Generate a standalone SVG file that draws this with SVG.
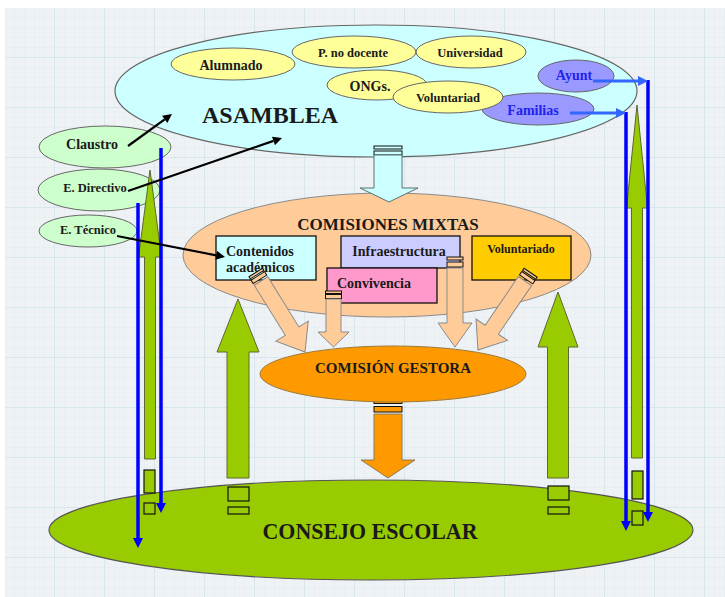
<svg xmlns="http://www.w3.org/2000/svg" width="725" height="597" viewBox="0 0 725 597">
<defs>
<pattern id="minor" x="5" y="8" width="10" height="10" patternUnits="userSpaceOnUse">
<path d="M10,0 V10 M0,10 H10" fill="none" stroke="#d6e5ee" stroke-width="0.6"/>
</pattern>
<pattern id="major" x="5" y="8" width="50" height="50" patternUnits="userSpaceOnUse">
<path d="M50,0 V50 M0,50 H50" fill="none" stroke="#c5dae6" stroke-width="0.9"/>
</pattern>
<marker id="blk" viewBox="0 0 10 10" refX="0" refY="5" markerWidth="10" markerHeight="9" markerUnits="userSpaceOnUse" orient="auto"><path d="M0,0 L10,5 L0,10 z" fill="#000"/></marker>
<marker id="blu" viewBox="0 0 10 10" refX="0" refY="5" markerWidth="10" markerHeight="10" markerUnits="userSpaceOnUse" orient="auto"><path d="M0,0 L10,5 L0,10 z" fill="#0000ff"/></marker>
<marker id="blu2" viewBox="0 0 10 10" refX="0" refY="5" markerWidth="10" markerHeight="10" markerUnits="userSpaceOnUse" orient="auto"><path d="M0,0 L10,5 L0,10 z" fill="#3366ff"/></marker>
</defs>
<style>
text{font-family:"Liberation Serif","Times New Roman",serif;font-weight:bold;fill:#1a1a1a;text-anchor:middle}
.st{text-anchor:start}
.asm{fill:#ccffff;stroke:#666;stroke-width:1.2}
.yel{fill:#ffff99;stroke:#666;stroke-width:1}
.vio{fill:#9999ff;stroke:#666;stroke-width:1}
.vt{fill:#2222ee}
.lg{fill:#ccffcc;stroke:#666;stroke-width:1}
.peach{fill:#ffcc99;stroke:#8a8a8a;stroke-width:1}
.box{stroke:#111;stroke-width:1.3}
.grn{fill:#99cc00;stroke:#5e6633;stroke-width:1}
.gbx{fill:#99cc00;stroke:#111;stroke-width:1.2}
.stripe{stroke:#111;stroke-width:1}
.bl{fill:none;stroke:#0000ff;stroke-width:3.5}
.bl2{fill:none;stroke:#3366ff;stroke-width:3}
.ba{fill:none;stroke:#000;stroke-width:2.2}
</style>
<rect x="0" y="0" width="725" height="597" fill="#ffffff"/>
<rect x="5" y="8" width="720" height="589" fill="#eff2f4"/>
<rect x="5" y="8" width="720" height="589" fill="url(#minor)"/>
<rect x="5" y="8" width="720" height="589" fill="url(#major)"/>

<g id="asamblea">
<ellipse class="asm" cx="376" cy="91" rx="261" ry="66"/>
<text x="270" y="123" font-size="24">ASAMBLEA</text>
</g>
<g id="alumnado"><ellipse class="yel" cx="233" cy="64" rx="62" ry="16"/><text x="231" y="70" font-size="14">Alumnado</text></g>
<g id="pnodocente"><ellipse class="yel" cx="354" cy="52" rx="62" ry="16"/><text x="353" y="57" font-size="12.5">P. no docente</text></g>
<g id="universidad"><ellipse class="yel" cx="471" cy="52" rx="55" ry="16"/><text x="470" y="57" font-size="12.5">Universidad</text></g>
<g id="ongs"><ellipse class="yel" cx="377" cy="85" rx="50" ry="15"/><text x="370" y="91" font-size="14">ONGs.</text></g>
<g id="ayunt"><ellipse class="vio" cx="576" cy="76" rx="38" ry="16"/><text class="vt" x="574" y="80" font-size="14">Ayunt</text></g>
<g id="familias"><ellipse class="vio" cx="538" cy="109" rx="56" ry="16"/><text class="vt" x="533" y="115" font-size="14">Familias</text></g>
<g id="voluntariad"><ellipse class="yel" cx="448" cy="97" rx="55" ry="16"/><text x="448" y="102" font-size="12.5">Voluntariad</text></g>

<g id="claustro"><ellipse class="lg" cx="105" cy="147" rx="66" ry="21"/><text x="92" y="149" font-size="14">Claustro</text></g>
<g id="edirectivo"><ellipse class="lg" cx="99" cy="190" rx="61" ry="21"/><text x="95" y="192" font-size="12.5">E. Directivo</text></g>
<g id="etecnico"><ellipse class="lg" cx="88" cy="231" rx="49" ry="16"/><text x="88" y="234" font-size="12.5">E. Técnico</text></g>

<g id="comisiones">
<ellipse class="peach" cx="387" cy="255" rx="204" ry="62"/>
<text x="388" y="230" font-size="17">COMISIONES MIXTAS</text>
</g>
<g id="contenidos"><rect class="box" x="216" y="236" width="100" height="44" fill="#ccffff"/><text class="st" x="226" y="256" font-size="14">Contenidos</text><text class="st" x="226" y="272" font-size="14">académicos</text></g>
<g id="infraestructura"><rect class="box" x="341" y="236" width="119" height="32" fill="#ccccff"/><text x="399" y="256" font-size="14">Infraestructura</text></g>
<g id="convivencia"><rect class="box" x="327" y="268" width="110" height="35" fill="#ff99cc"/><text class="st" x="337" y="288" font-size="14">Convivencia</text></g>
<g id="voluntariado"><rect class="box" x="472" y="236" width="99" height="44" fill="#ffcc00"/><text x="521" y="253" font-size="12">Voluntariado</text></g>

<g id="consejo">
<ellipse cx="371" cy="530" rx="322" ry="50" fill="#99cc00" stroke="#555" stroke-width="1.2"/>
<text x="370" y="539" font-size="23" textLength="215" lengthAdjust="spacingAndGlyphs">CONSEJO ESCOLAR</text>
</g>

<g id="connectors">
<!-- orange arrow gestora -> consejo -->
<g fill="#ff9900">
<rect class="stripe" x="374" y="400" width="28" height="3.5"/>
<rect class="stripe" x="374" y="406.5" width="28" height="5.5"/>
<polygon points="374,414 402,414 402,460 415,460 388,478 361,460 374,460" stroke="#8c7a5a" stroke-width="1"/>
</g>
</g>

<g id="gestora">
<ellipse cx="393" cy="374" rx="133" ry="28" fill="#ff9900" stroke="#9a7a3a" stroke-width="1"/>
<text x="393" y="373" font-size="15">COMISIÓN GESTORA</text>
</g>

<g id="connectors2">
<!-- peach striped arrows from comisiones to gestora -->
<g transform="translate(261,281) rotate(-31.8)" fill="#ffcc99">
<rect class="stripe" x="-8" y="-10" width="16" height="2.5"/>
<rect class="stripe" x="-8" y="-6" width="16" height="4"/>
<polygon class="peach" points="-8,0 8,0 8,59 19,59 0,83.5 -19,59 -8,59"/>
</g>
<g fill="#ffcc99">
<rect class="stripe" x="325.5" y="291" width="16" height="2.5"/>
<rect class="stripe" x="325.5" y="294.5" width="16" height="4"/>
<polygon class="peach" points="326,299 341,299 341,332 349,332 333.5,347 318,332 326,332"/>
<rect class="stripe" x="447" y="257" width="16" height="3"/>
<rect class="stripe" x="447" y="262" width="16" height="5"/>
<polygon class="peach" points="447,268 463,268 463,323 472,323 455,347 438,323 447,323"/>
</g>
<g transform="translate(525,281) rotate(34.3)" fill="#ffcc99">
<rect class="stripe" x="-8" y="-10" width="16" height="2.5"/>
<rect class="stripe" x="-8" y="-6" width="16" height="4"/>
<polygon class="peach" points="-8,0 8,0 8,59 19,59 0,83.5 -19,59 -8,59"/>
</g>
<!-- cyan arrow asamblea -> comisiones -->
<g fill="#ccffff">
<rect class="stripe" x="374" y="146" width="28" height="3"/>
<rect class="stripe" x="374" y="151" width="28" height="4"/>
<polygon points="374,155 402,155 402,188 418,188 389,202 360,188 374,188" stroke="#5a7272" stroke-width="1"/>
</g>
<!-- green arrows up -->
<polygon class="grn" points="150,170 161.5,257 155.5,257 155.5,459 144.5,459 144.5,257 138.5,257"/>
<polygon class="grn" points="637,105 647.5,208 642.5,208 642.5,458 631.5,458 631.5,208 626.5,208"/>
<polygon class="grn" points="238,299 259,352 249,352 249,478 227,478 227,352 217,352"/>
<polygon class="grn" points="558,292 578,347 568.5,347 568.5,478 547.5,478 547.5,347 538,347"/>
<rect class="gbx" x="144" y="470" width="11" height="23"/>
<rect class="gbx" x="144" y="503" width="11" height="11"/>
<rect class="gbx" x="228" y="487" width="21" height="14"/>
<rect class="gbx" x="228" y="507" width="21" height="7"/>
<rect class="gbx" x="548" y="486" width="21" height="14"/>
<rect class="gbx" x="548" y="507" width="21" height="7"/>
<rect class="gbx" x="632" y="471" width="11" height="28"/>
<rect class="gbx" x="632" y="511" width="11" height="14"/>
<!-- blue lines -->
<path class="bl" d="M161,148 V503" marker-end="url(#blu)"/>
<path class="bl" d="M138,203 V538" marker-end="url(#blu)"/>
<path class="bl" d="M626,112 V521" marker-end="url(#blu)"/>
<path class="bl" d="M648,80 V512" marker-end="url(#blu)"/>
<path class="bl2" d="M593,81 H638" marker-end="url(#blu2)"/>
<path class="bl2" d="M570,113 H616" marker-end="url(#blu2)"/>
<!-- black arrows -->
<path class="ba" d="M128,146 L164.7,119.3" marker-end="url(#blk)"/>
<path class="ba" d="M128,191 L273.5,140.9" marker-end="url(#blk)"/>
<path class="ba" d="M117,236 L216.2,255.3" marker-end="url(#blk)"/>
</g>
</svg>
